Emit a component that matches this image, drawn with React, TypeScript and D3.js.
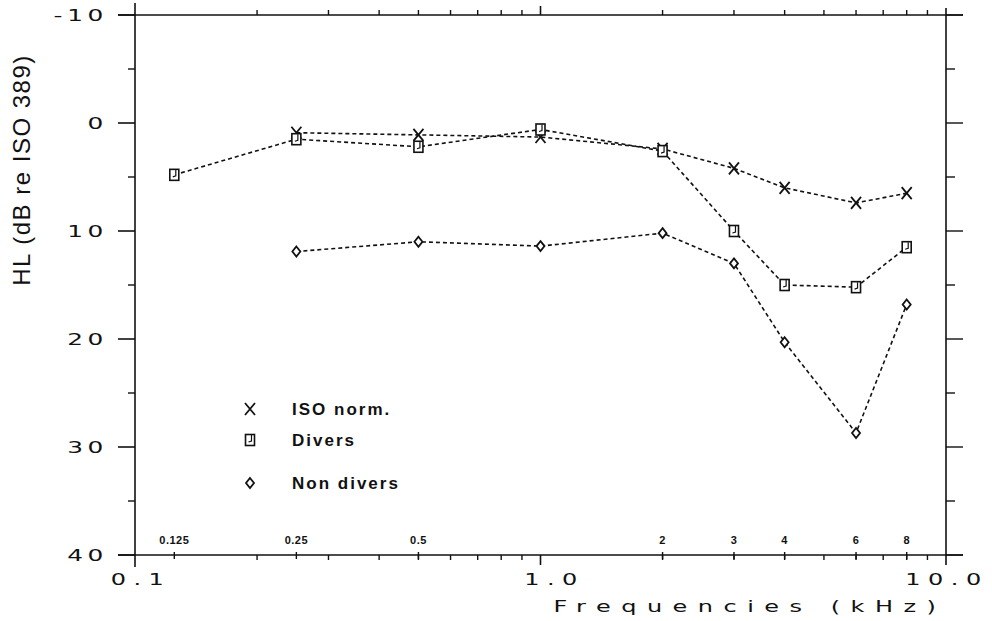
import React, { useEffect, useRef } from "react";
import * as d3 from "d3";

const isoFreq = [0.25, 0.5, 1, 2, 3, 4, 6, 8];
const isoValues = [0.9, 1.1, 1.3, 2.4, 4.2, 6.0, 7.4, 6.5];
const diversFreq = [0.125, 0.25, 0.5, 1, 2, 3, 4, 6, 8];
const diversValues = [4.8, 1.5, 2.2, 0.6, 2.6, 10.0, 15.0, 15.2, 11.5];
const nonDiversFreq = [0.25, 0.5, 1, 2, 3, 4, 6, 8];
const nonDiversValues = [11.9, 11.0, 11.4, 10.2, 13.0, 20.3, 28.7, 16.8];
const yTicks = [-10, 0, 10, 20, 30, 40];
const yTickLabels = ["-10", "0", "10", "20", "30", "40"];
const xMajor = [0.1, 1, 10];
const xMajorLabels = ["0.1", "1.0", "10.0"];
const freqLabels = ["0.125", "0.25", "0.5", "2", "3", "4", "6", "8"];
const freqLabelValues = [0.125, 0.25, 0.5, 2, 3, 4, 6, 8];
const legendNames = ["ISO norm.", "Divers", "Non divers"];

export default function App() {
  const ref = useRef<SVGSVGElement>(null);
  useEffect(() => {
    document.body.style.margin = "0";
    const svg = d3.select(ref.current);
    svg.selectAll("*").remove();
    const W = 992, H = 621;
    const x = d3.scaleLog().domain([0.1, 10]).range([135, 946]);
    const y = d3.scaleLinear().domain([-10, 40]).range([15, 555]);
    const g = svg.append("g");
    const col = "#111";
    const plotFont = "DejaVu Sans, sans-serif";

    // frame lines
    g.append("line").attr("x1", 118).attr("x2", 963).attr("y1", y(-10)).attr("y2", y(-10)).attr("stroke", col).attr("stroke-width", 1.6);
    g.append("line").attr("x1", 118).attr("x2", 963).attr("y1", y(40)).attr("y2", y(40)).attr("stroke", col).attr("stroke-width", 1.6);
    g.append("line").attr("x1", x(0.1)).attr("x2", x(0.1)).attr("y1", 3).attr("y2", 567).attr("stroke", col).attr("stroke-width", 1.6);
    g.append("line").attr("x1", x(10)).attr("x2", x(10)).attr("y1", 8).attr("y2", 565).attr("stroke", col).attr("stroke-width", 1.6);

    // y ticks
    const yMinor = d3.range(-5, 40, 10);
    yTicks.forEach((v) => {
      g.append("line").attr("x1", 118).attr("x2", x(0.1)).attr("y1", y(v)).attr("y2", y(v)).attr("stroke", col).attr("stroke-width", 1.6);
      g.append("line").attr("x1", x(10)).attr("x2", 963).attr("y1", y(v)).attr("y2", y(v)).attr("stroke", col).attr("stroke-width", 1.4);
    });
    yMinor.forEach((v) => {
      g.append("line").attr("x1", 128).attr("x2", x(0.1)).attr("y1", y(v)).attr("y2", y(v)).attr("stroke", col).attr("stroke-width", 1.4);
      g.append("line").attr("x1", x(10)).attr("x2", 955).attr("y1", y(v)).attr("y2", y(v)).attr("stroke", col).attr("stroke-width", 1.4);
    });
    yTicks.forEach((v, i) => {
      g.append("text").attr("transform", `translate(108,${y(v) + 6}) scale(1.55,1)`).attr("text-anchor", "end")
        .attr("font-family", plotFont).attr("font-size", 16).attr("letter-spacing", 3)
        .attr("fill", col).text(yTickLabels[i]);
    });

    // x ticks
    const minorX = [0.2, 0.3, 0.4, 0.5, 0.6, 0.7, 0.8, 0.9, 2, 3, 4, 5, 6, 7, 8, 9];
    minorX.forEach((v) => {
      g.append("line").attr("x1", x(v)).attr("x2", x(v)).attr("y1", y(-10) - 5).attr("y2", y(-10)).attr("stroke", col).attr("stroke-width", 1.4);
      g.append("line").attr("x1", x(v)).attr("x2", x(v)).attr("y1", y(40)).attr("y2", y(40) + 5).attr("stroke", col).attr("stroke-width", 1.4);
    });
    freqLabelValues.forEach((v) => {
      g.append("line").attr("x1", x(v)).attr("x2", x(v)).attr("y1", y(40) - 3).attr("y2", y(40) + 4).attr("stroke", col).attr("stroke-width", 1.4);
    });
    g.append("line").attr("x1", x(1)).attr("x2", x(1)).attr("y1", y(-10) - 9).attr("y2", y(-10)).attr("stroke", col).attr("stroke-width", 1.6);
    g.append("line").attr("x1", x(1)).attr("x2", x(1)).attr("y1", y(40)).attr("y2", y(40) + 10).attr("stroke", col).attr("stroke-width", 1.6);

    const majorShift = [6, 14, 1];
    xMajor.forEach((v, i) => {
      g.append("text").attr("transform", `translate(${x(v) + majorShift[i]},585) scale(1.5,1)`).attr("text-anchor", "middle")
        .attr("font-family", plotFont).attr("font-size", 16).attr("letter-spacing", 5)
        .attr("fill", col).text(xMajorLabels[i]);
    });
    freqLabelValues.forEach((v, i) => {
      g.append("text").attr("x", x(v)).attr("y", 544).attr("text-anchor", "middle")
        .attr("font-family", "Liberation Sans, Arial, sans-serif").attr("font-size", 11).attr("font-weight", "bold").attr("letter-spacing", 0.5)
        .attr("fill", col).text(freqLabels[i]);
    });

    // axis titles
    g.append("text").attr("transform", "translate(750,612) scale(1.5,1)").attr("text-anchor", "middle")
      .attr("font-family", plotFont).attr("font-size", 16).attr("letter-spacing", 7)
      .attr("fill", col).text("Frequencies (kHz)");
    g.append("text").attr("transform", "translate(30,170) rotate(-90)").attr("text-anchor", "middle")
      .attr("font-family", "Liberation Sans, Arial, sans-serif").attr("font-size", 24).attr("letter-spacing", 1.5)
      .attr("fill", col).text("HL (dB re ISO 389)");

    // lines
    const line = d3.line<[number, number]>().x((d) => x(d[0])).y((d) => y(d[1]));
    const series = [
      { f: isoFreq, v: isoValues, m: "x" },
      { f: diversFreq, v: diversValues, m: "sq" },
      { f: nonDiversFreq, v: nonDiversValues, m: "dia" },
    ];
    const drawMarker = (m: string, cx: number, cy: number) => {
      if (m === "x") {
        g.append("path").attr("d", `M${cx - 5},${cy - 6}L${cx + 5},${cy + 6}M${cx + 5},${cy - 6}L${cx - 5},${cy + 6}`)
          .attr("stroke", col).attr("stroke-width", 1.8).attr("fill", "none");
      } else if (m === "sq") {
        g.append("rect").attr("x", cx - 4.5).attr("y", cy - 5.5).attr("width", 9).attr("height", 11)
          .attr("fill", "white").attr("stroke", col).attr("stroke-width", 1.6);
        g.append("path").attr("d", `M${cx + 1.5},${cy - 5}L${cx + 1.5},${cy + 1}L${cx - 1.5},${cy + 2}`)
          .attr("stroke", col).attr("stroke-width", 1.2).attr("fill", "none");
      } else {
        g.append("path").attr("d", `M${cx},${cy - 5}L${cx + 4},${cy}L${cx},${cy + 5}L${cx - 4},${cy}Z`)
          .attr("fill", "white").attr("stroke", col).attr("stroke-width", 1.8);
      }
    };
    series.forEach((s) => {
      const pts = s.f.map((f, i) => [f, s.v[i]] as [number, number]);
      g.append("path").attr("d", line(pts)).attr("fill", "none").attr("stroke", col)
        .attr("stroke-width", 1.6).attr("stroke-dasharray", "4,3");
    });
    series.forEach((s) => {
      s.f.forEach((f, i) => drawMarker(s.m, x(f), y(s.v[i])));
    });

    // legend
    const legY = [409, 440, 483];
    series.forEach((s, i) => {
      drawMarker(s.m, 250, legY[i]);
      g.append("text").attr("x", 292).attr("y", legY[i] + 6)
        .attr("font-family", "Liberation Sans, Arial, sans-serif").attr("font-size", 17).attr("font-weight", "bold").attr("letter-spacing", 2)
        .attr("fill", col).text(legendNames[i]);
    });
    svg.attr("width", W).attr("height", H);
  }, []);
  return (
    <svg ref={ref} width={992} height={621} style={{ position: "absolute", left: 0, top: 0, background: "white" }} />
  );
}
